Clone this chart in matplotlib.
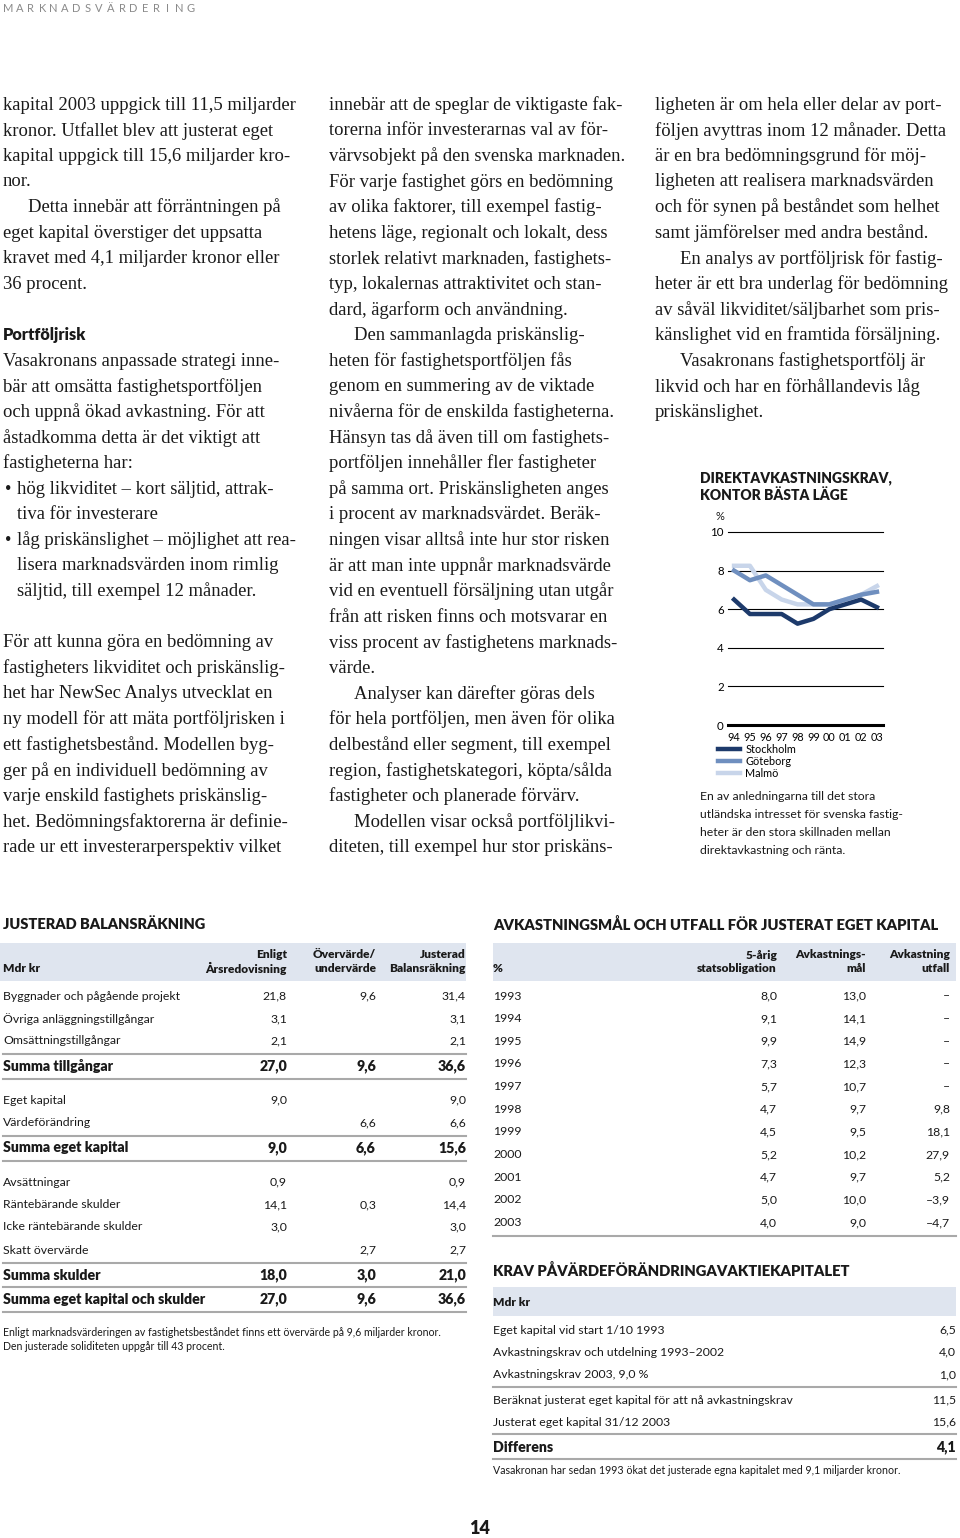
import matplotlib
matplotlib.use("Agg")
import matplotlib.pyplot as plt
from matplotlib.patches import Rectangle

W, H = 960, 1538

# chart data
years = ["94", "95", "96", "97", "98", "99", "00", "01", "02", "03"]
stockholm = [6.5, 5.75, 5.75, 5.75, 5.25, 5.5, 6.0, 6.25, 6.5, 6.1]
goteborg = [8.0, 7.5, 7.75, 7.25, 6.75, 6.25, 6.25, 6.5, 6.75, 6.9]
malmo = [8.25, 8.25, 7.0, 6.5, 6.25, 6.25, 6.25, 6.5, 6.75, 7.2]
y_ticks = [0, 2, 4, 6, 8, 10]

# balance sheet table
bal_rows = ["Byggnader och pågående projekt", "Övriga anläggningstillgångar", "Omsättningstillgångar",
            "Summa tillgångar", "Eget kapital", "Värdeförändring", "Summa eget kapital",
            "Avsättningar", "Räntebärande skulder", "Icke räntebärande skulder", "Skatt övervärde",
            "Summa skulder", "Summa eget kapital och skulder"]
bal_enligt = ["21,8", "3,1", "2,1", "27,0", "9,0", "", "9,0", "0,9", "14,1", "3,0", "", "18,0", "27,0"]
bal_over = ["9,6", "", "", "9,6", "", "6,6", "6,6", "", "0,3", "", "2,7", "3,0", "9,6"]
bal_just = ["31,4", "3,1", "2,1", "36,6", "9,0", "6,6", "15,6", "0,9", "14,4", "3,0", "2,7", "21,0", "36,6"]
bal_bold = [3, 6, 11, 12]

# return table
ret_years = ["1993", "1994", "1995", "1996", "1997", "1998", "1999", "2000", "2001", "2002", "2003"]
ret_stat = [8.0, 9.1, 9.9, 7.3, 5.7, 4.7, 4.5, 5.2, 4.7, 5.0, 4.0]
ret_mal = [13.0, 14.1, 14.9, 12.3, 10.7, 9.7, 9.5, 10.2, 9.7, 10.0, 9.0]
ret_utfall = [None, None, None, None, None, 9.8, 18.1, 27.9, 5.2, -3.9, -4.7]

# krav table
krav_rows = ["Eget kapital vid start 1/10 1993", "Avkastningskrav och utdelning 1993–2002",
             "Avkastningskrav 2003, 9,0 %", "Beräknat justerat eget kapital för att nå avkastningskrav",
             "Justerat eget kapital 31/12 2003", "Differens"]
krav_vals = [6.5, 4.0, 1.0, 11.5, 15.6, 4.1]

col1 = [
    "kapital 2003 uppgick till 11,5 miljarder",
    "kronor. Utfallet blev att justerat eget",
    "kapital uppgick till 15,6 miljarder kro-",
    "nor.",
    ">Detta innebär att förräntningen på",
    "eget kapital överstiger det uppsatta",
    "kravet med 4,1 miljarder kronor eller",
    "36 procent.",
    "",
    "#Portföljrisk",
    "Vasakronans anpassade strategi inne-",
    "bär att omsätta fastighetsportföljen",
    "och uppnå ökad avkastning. För att",
    "åstadkomma detta är det viktigt att",
    "fastigheterna har:",
    "*hög likviditet – kort säljtid, attrak-",
    "+tiva för investerare",
    "*låg priskänslighet – möjlighet att rea-",
    "+lisera marknadsvärden inom rimlig",
    "+säljtid, till exempel 12 månader.",
    "",
    "För att kunna göra en bedömning av",
    "fastigheters likviditet och priskänslig-",
    "het har NewSec Analys utvecklat en",
    "ny modell för att mäta portföljrisken i",
    "ett fastighetsbestånd. Modellen byg-",
    "ger på en individuell bedömning av",
    "varje enskild fastighets priskänslig-",
    "het. Bedömningsfaktorerna är definie-",
    "rade ur ett investerarperspektiv vilket",
]
col2 = [
    "innebär att de speglar de viktigaste fak-",
    "torerna inför investerarnas val av för-",
    "värvsobjekt på den svenska marknaden.",
    "För varje fastighet görs en bedömning",
    "av olika faktorer, till exempel fastig-",
    "hetens läge, regionalt och lokalt, dess",
    "storlek relativt marknaden, fastighets-",
    "typ, lokalernas attraktivitet och stan-",
    "dard, ägarform och användning.",
    ">Den sammanlagda priskänslig-",
    "heten för fastighetsportföljen fås",
    "genom en summering av de viktade",
    "nivåerna för de enskilda fastigheterna.",
    "Hänsyn tas då även till om fastighets-",
    "portföljen innehåller fler fastigheter",
    "på samma ort. Priskänsligheten anges",
    "i procent av marknadsvärdet. Beräk-",
    "ningen visar alltså inte hur stor risken",
    "är att man inte uppnår marknadsvärde",
    "vid en eventuell försäljning utan utgår",
    "från att risken finns och motsvarar en",
    "viss procent av fastighetens marknads-",
    "värde.",
    ">Analyser kan därefter göras dels",
    "för hela portföljen, men även för olika",
    "delbestånd eller segment, till exempel",
    "region, fastighetskategori, köpta/sålda",
    "fastigheter och planerade förvärv.",
    ">Modellen visar också portföljlikvi-",
    "diteten, till exempel hur stor priskäns-",
]
col3 = [
    "ligheten är om hela eller delar av port-",
    "följen avyttras inom 12 månader. Detta",
    "är en bra bedömningsgrund för möj-",
    "ligheten att realisera marknadsvärden",
    "och för synen på beståndet som helhet",
    "samt jämförelser med andra bestånd.",
    ">En analys av portföljrisk för fastig-",
    "heter är ett bra underlag för bedömning",
    "av såväl likviditet/säljbarhet som pris-",
    "känslighet vid en framtida försäljning.",
    ">Vasakronans fastighetsportfölj är",
    "likvid och har en förhållandevis låg",
    "priskänslighet.",
]

serif = "Liberation Serif"
sans = "Lato"
ink = "#1a1a1a"
band = "#dfe5ef"
rule = "#a9a9a9"
heavy = "heavy"


def fmt(v):
    if v is None:
        return "–"
    s = "{:.1f}".format(abs(v)).replace(".", ",")
    return "–" + s if v < 0 else s


fig = plt.figure(figsize=(W / 100, H / 100), dpi=100)
bg = fig.add_axes([0, 0, 1, 1])
bg.set_xlim(0, W)
bg.set_ylim(H, 0)
bg.axis("off")

# running header, letter spaced
for i, ch in enumerate("MARKNADSVÄRDERING"):
    bg.text(8 + 11.4 * i, 9, ch, family=sans, size=8, color="#8a8a8a", va="center", ha="center")


def body(x, lines):
    for i, s in enumerate(lines):
        if not s:
            continue
        y = 105 + 25.6 * i
        kw = dict(family=serif, size=13.4, color=ink, va="center")
        if s[0] == ">":
            bg.text(x + 25, y, s[1:], **kw)
        elif s[0] == "*":
            bg.text(x + 2, y, "•", **kw)
            bg.text(x + 14, y, s[1:], **kw)
        elif s[0] == "+":
            bg.text(x + 14, y, s[1:], **kw)
        elif s[0] == "#":
            bg.text(x, y, s[1:], family=sans, size=11.8, weight=heavy, color=ink, va="center")
        else:
            bg.text(x, y, s, **kw)


body(3, col1)
body(329, col2)
body(655, col3)

# chart
bg.text(700, 478, "DIREKTAVKASTNINGSKRAV,", family=sans, size=10, weight=heavy, color=ink, va="center")
bg.text(700, 495, "KONTOR BÄSTA LÄGE", family=sans, size=10, weight=heavy, color=ink, va="center")
bg.text(716, 516, "%", family=sans, size=8, color=ink, va="center")

ax = fig.add_axes([728 / W, 1 - 725 / H, (883 - 728) / W, (725 - 532) / H])
ax.set_xlim(-0.38, len(years) - 1 + 0.38)
ax.set_ylim(0, 10)
for t in y_ticks:
    ax.axhline(t, color="black", lw=2.2 if t == 0 else 0.8, clip_on=False, zorder=1)
x = list(range(len(years)))
l1, = ax.plot(x, stockholm, color="#1d3a6b", lw=3.2, zorder=5, label="Stockholm")
l2, = ax.plot(x, goteborg, color="#6f8fbf", lw=3.2, zorder=3, label="Göteborg")
l3, = ax.plot(x, malmo, color="#c8d5ea", lw=3.2, zorder=2, label="Malmö")
ax.set_yticks(y_ticks)
ax.set_yticklabels([str(t) for t in y_ticks], family=sans, fontsize=8.3)
ax.set_xticks(x)
ax.set_xticklabels(years, family=sans, fontsize=7.8)
ax.tick_params(length=0, pad=3)
ax.tick_params(axis="x", pad=5)
for sp in ax.spines.values():
    sp.set_visible(False)
ax.patch.set_alpha(0)
ax.legend(handles=[l1, l2, l3], loc="upper left", bbox_to_anchor=(718 / W, 1 - 744 / H),
          bbox_transform=fig.transFigure, frameon=False, prop=dict(family=sans, size=7.8),
          handlelength=2.0, handletextpad=0.5, labelspacing=0.08, borderpad=0, borderaxespad=0)

caption = ["En av anledningarna till det stora", "utländska intresset för svenska fastig-",
           "heter är den stora skillnaden mellan", "direktavkastning och ränta."]
for i, s in enumerate(caption):
    bg.text(700, 797 + 17.7 * i, s, family=sans, size=8.8, color=ink, va="center")

# left table
bg.text(3, 924, "JUSTERAD BALANSRÄKNING", family=sans, size=10.5, weight=heavy, color=ink, va="center")
bg.add_patch(Rectangle((0, 943), 466, 38, color=band, lw=0))
hk = dict(family=sans, size=8.6, weight=heavy, color=ink, va="center")
bg.text(3, 968, "Mdr kr", **hk)
for xr, a, b in [(287, "Enligt", "Årsredovisning"), (376, "Övervärde/", "undervärde"),
                 (466, "Justerad", "Balansräkning")]:
    bg.text(xr, 955, a, ha="right", **hk)
    bg.text(xr, 968, b, ha="right", **hk)

bal_y = [996, 1019, 1041, 1066, 1100, 1123, 1148, 1182, 1205, 1227, 1250, 1275, 1299]
for i, lab in enumerate(bal_rows):
    if i in bal_bold:
        kw = dict(family=sans, size=10.2, weight=heavy, color=ink, va="center")
    else:
        kw = dict(family=sans, size=8.8, color=ink, va="center")
    bg.text(3, bal_y[i], lab, **kw)
    bg.text(287, bal_y[i], bal_enligt[i], ha="right", **kw)
    bg.text(376, bal_y[i], bal_over[i], ha="right", **kw)
    bg.text(466, bal_y[i], bal_just[i], ha="right", **kw)
for yl in [1054, 1079, 1136, 1161, 1263, 1287, 1312]:
    bg.plot([3, 466], [yl, yl], color=rule, lw=1.5)
bg.text(3, 1332, "Enligt marknadsvärderingen av fastighetsbeståndet finns ett övervärde på 9,6 miljarder kronor.",
        family=sans, size=7.6, color=ink, va="center")
bg.text(3, 1347, "Den justerade soliditeten uppgår till 43 procent.", family=sans, size=7.6, color=ink, va="center")

# right table
bg.text(493, 924, "AVKASTNINGSMÅL OCH UTFALL FÖR JUSTERAT EGET KAPITAL", family=sans, size=10.6,
        weight=heavy, color=ink, va="center")
bg.add_patch(Rectangle((493, 943), 463, 38, color=band, lw=0))
bg.text(493, 968, "%", **hk)
for xr, a, b in [(777, "5-årig", "statsobligation"), (866, "Avkastnings-", "mål"),
                 (950, "Avkastning", "utfall")]:
    bg.text(xr, 955, a, ha="right", **hk)
    bg.text(xr, 968, b, ha="right", **hk)
for i, yr in enumerate(ret_years):
    y = 996 + 22.65 * i
    kw = dict(family=sans, size=8.8, color=ink, va="center")
    bg.text(493, y, yr, **kw)
    bg.text(777, y, fmt(ret_stat[i]), ha="right", **kw)
    bg.text(866, y, fmt(ret_mal[i]), ha="right", **kw)
    bg.text(950, y, fmt(ret_utfall[i]), ha="right", **kw)
bg.plot([493, 956], [1236, 1236], color=rule, lw=1.5)

# krav table
bg.text(493, 1270, "KRAV PÅVÄRDEFÖRÄNDRINGAVAKTIEKAPITALET", family=sans, size=10.6, weight=heavy,
        color=ink, va="center")
bg.add_patch(Rectangle((493, 1287), 463, 29, color=band, lw=0))
bg.text(493, 1302, "Mdr kr", **hk)
krav_y = [1330, 1352, 1375, 1400, 1422, 1447]
for i, lab in enumerate(krav_rows):
    if i == len(krav_rows) - 1:
        kw = dict(family=sans, size=10.2, weight=heavy, color=ink, va="center")
    else:
        kw = dict(family=sans, size=8.8, color=ink, va="center")
    bg.text(493, krav_y[i], lab, **kw)
    bg.text(956, krav_y[i], fmt(krav_vals[i]), ha="right", **kw)
for yl in [1387, 1434, 1459]:
    bg.plot([493, 956], [yl, yl], color=rule, lw=1.5)
bg.text(493, 1471, "Vasakronan har sedan 1993 ökat det justerade egna kapitalet med 9,1 miljarder kronor.",
        family=sans, size=7.7, color=ink, va="center")

bg.text(480, 1528, "14", family=sans, size=13, weight=heavy, color=ink, va="center", ha="center")

fig.savefig("out.png", dpi=100)
